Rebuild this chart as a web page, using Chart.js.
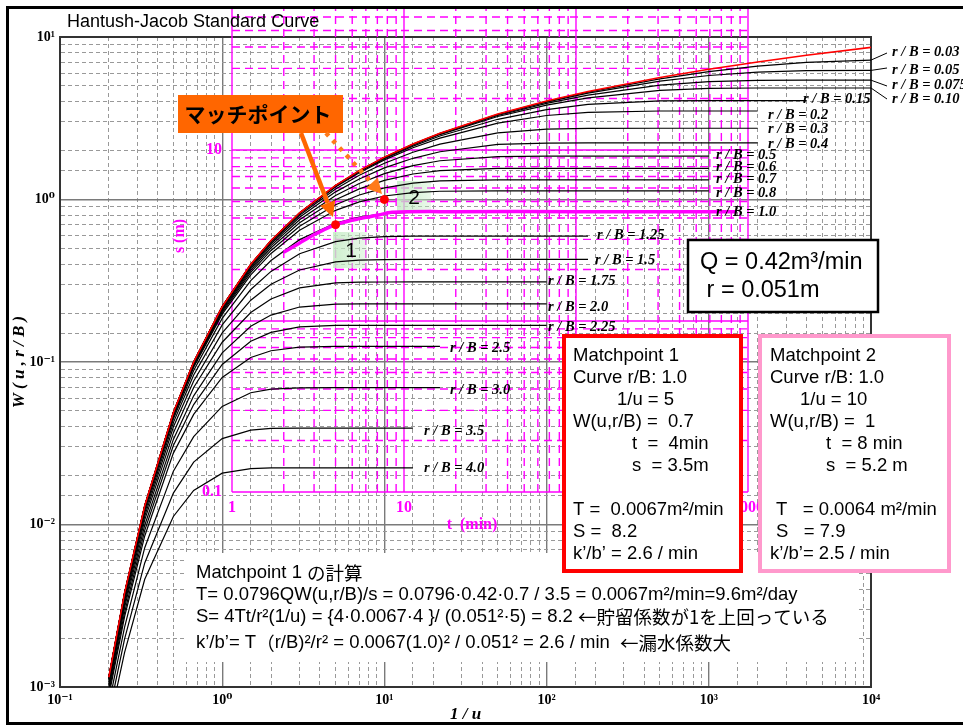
<!DOCTYPE html>
<html>
<head>
<meta charset="utf-8">
<script src="https://cdn.jsdelivr.net/npm/chart.js@4.4.1/dist/chart.umd.min.js"></script>
<style>
  html, body { margin: 0; padding: 0; background: #fff; }
  canvas { display: block; }
</style>
</head>
<body>
<canvas id="chart" width="963" height="725"></canvas>
<script>
// 1/u sample points shared by every type curve
const invU = [0.2, 0.25, 0.333, 0.5, 0.667, 1, 1.5, 2, 3, 5, 7, 10, 15, 22, 50, 100, 180, 500, 1000, 2000, 4000, 10000];

// Theis curve (red)
const theis = [0.001148, 0.003779, 0.01305, 0.0489, 0.1, 0.2194, 0.399, 0.5598, 0.8289, 1.2227, 1.5066, 1.8229, 2.1965, 2.5588, 3.3547, 4.0379, 4.6214, 5.6394, 6.3315, 7.0242, 7.717, 8.6332];

// W(u, r/B) read for each r/B curve
const rb003 = [0.001148, 0.003778, 0.01304, 0.04886, 0.0999, 0.2192, 0.3987, 0.5593, 0.8282, 1.2216, 1.505, 1.8207, 2.1931, 2.5539, 3.3457, 4.0155, 4.5813, 5.53, 6.1185, 6.62, 6.985, 7.21];
const rb005 = [0.001147, 0.003777, 0.01303, 0.04885, 0.0999, 0.2192, 0.3985, 0.559, 0.827, 1.2196, 1.5022, 1.8167, 2.1872, 2.5451, 3.3299, 3.9764, 4.512, 5.3497, 5.796, 6.082, 6.204, 6.228];
const rb0075 = [0.001146, 0.00377, 0.01302, 0.0488, 0.0998, 0.2192, 0.3985, 0.558, 0.8247, 1.2157, 1.4968, 1.811, 2.1775, 2.531, 3.29, 3.907, 4.39, 5.051, 5.307, 5.406, 5.422, 5.423];
const rb010 = [0.001146, 0.00377, 0.01302, 0.0488, 0.0999, 0.219, 0.398, 0.558, 0.823, 1.212, 1.492, 1.802, 2.163, 2.51, 3.24, 3.811, 4.226, 4.7, 4.828, 4.853, 4.854, 4.854];
const rb015 = [0.001146, 0.00377, 0.01302, 0.0488, 0.0997, 0.2186, 0.3969, 0.556, 0.8214, 1.2065, 1.4812, 1.7829, 2.1313, 2.4583, 3.1158, 3.5725, 3.846, 4.0434, 4.0594, 4.06, 4.0601];
const rb02 = [0.001144, 0.00377, 0.01302, 0.04872, 0.0995, 0.218, 0.3952, 0.5531, 0.8157, 1.1943, 1.4619, 1.7527, 2.0829, 2.3847, 2.9522, 3.2875, 3.4409, 3.5041, 3.5054, 3.5054];
const rb03 = [0.001144, 0.003762, 0.01297, 0.04849, 0.09894, 0.2161, 0.3902, 0.5454, 0.7999, 1.1603, 1.4086, 1.6704, 1.9535, 2.1939, 2.5689, 2.7105, 2.7414, 2.745, 2.745, 2.745];
const rb04 = [0.00114, 0.003748, 0.01291, 0.04817, 0.0981, 0.2134, 0.3837, 0.5342, 0.778, 1.1145, 1.3384, 1.5644, 1.7927, 1.9676, 2.1809, 2.2253, 2.229, 2.2291, 2.2291, 2.2291];
const rb05 = [0.001136, 0.00373, 0.01283, 0.04776, 0.09703, 0.2102, 0.3758, 0.5205, 0.7511, 1.0592, 1.2551, 1.4423, 1.6157, 1.7321, 1.8379, 1.8486, 1.8488, 1.8488, 1.8488];
const rb06 = [0.00113, 0.003709, 0.01274, 0.04729, 0.09589, 0.2064, 0.3665, 0.5044, 0.7197, 0.9964, 1.1628, 1.3115, 1.4355, 1.5065, 1.5529, 1.555, 1.555, 1.555, 1.555];
const rb07 = [0.001124, 0.003684, 0.01263, 0.04674, 0.09442, 0.202, 0.3557, 0.486, 0.6847, 0.9284, 1.0657, 1.1791, 1.2627, 1.3024, 1.3206, 1.321, 1.321, 1.321, 1.321];
const rb08 = [0.001117, 0.003656, 0.01251, 0.0461, 0.09282, 0.1969, 0.3436, 0.4657, 0.6469, 0.8575, 0.9675, 1.0505, 1.1037, 1.1241, 1.1306, 1.1306, 1.1306, 1.1306, 1.1306];
const rb10 = [0.0011, 0.00359, 0.01222, 0.04458, 0.0887, 0.1854, 0.3166, 0.421, 0.5662, 0.7149, 0.7797, 0.8191, 0.8373, 0.8415, 0.842, 0.842, 0.842, 0.842, 0.842];
const rb125 = [0.001075, 0.003489, 0.01178, 0.04235, 0.0832, 0.1691, 0.2793, 0.3611, 0.4639, 0.5506, 0.579, 0.5915, 0.595, 0.5955, 0.5955, 0.5955, 0.5955];
const rb15 = [0.001033, 0.003367, 0.01125, 0.03978, 0.0765, 0.1509, 0.24, 0.3007, 0.3683, 0.4135, 0.424, 0.4271, 0.4276, 0.4276, 0.4276, 0.4276, 0.4276];
const rb175 = [0.001008, 0.00323, 0.01067, 0.0366, 0.0697, 0.1323, 0.2017, 0.2444, 0.2857, 0.3069, 0.3102, 0.3107, 0.3108, 0.3108, 0.3108, 0.3108];
const rb20 = [0.00097, 0.00308, 0.0099, 0.0334, 0.0619, 0.1139, 0.1659, 0.1944, 0.2179, 0.2269, 0.2278, 0.2278, 0.2278, 0.2278, 0.2278, 0.2278];
const rb225 = [0.000926, 0.00287, 0.0092, 0.0306, 0.0547, 0.0965, 0.1341, 0.1521, 0.1646, 0.1681, 0.1681, 0.1681, 0.1681, 0.1681, 0.1681, 0.1681];
const rb25 = [0.00088, 0.0027, 0.0085, 0.0275, 0.0476, 0.0803, 0.1065, 0.1173, 0.1235, 0.1247, 0.1247, 0.1247, 0.1247, 0.1247];
const rb30 = [0.00078, 0.00233, 0.0072, 0.0213, 0.0347, 0.0533, 0.0647, 0.0681, 0.0693, 0.0695, 0.0695, 0.0695, 0.0695, 0.0695];
const rb35 = [0.00068, 0.00197, 0.0058, 0.0156, 0.0242, 0.0338, 0.0381, 0.039, 0.0392, 0.0392, 0.0392, 0.0392, 0.0392];
const rb40 = [0.00058, 0.00163, 0.0046, 0.0112, 0.0162, 0.0207, 0.0221, 0.0223, 0.0223, 0.0223, 0.0223, 0.0223, 0.0223];

const rbNames = ['0.03', '0.05', '0.075', '0.10', '0.15', '0.2', '0.3', '0.4', '0.5', '0.6', '0.7', '0.8', '1.0',
  '1.25', '1.5', '1.75', '2.0', '2.25', '2.5', '3.0', '3.5', '4.0'];
const rbSeries = [rb003, rb005, rb0075, rb010, rb015, rb02, rb03, rb04, rb05, rb06, rb07, rb08, rb10,
  rb125, rb15, rb175, rb20, rb225, rb25, rb30, rb35, rb40];

// field data (magenta): time t (min) and drawdown s (m)
const tData = [2.0, 2.5, 3.1, 4.0, 5.5, 7.0, 8.5, 20, 100, 860];
const sData = [2.52, 2.88, 3.25, 3.66, 3.97, 4.15, 4.33, 4.36, 4.36, 4.36];

// match points on the type curve
const matchInvU = [5, 10];
const matchW = [0.7, 1.0];

// where the curve labels sit
const labelPos = [[892, 52], [892, 70], [892, 85], [892, 99], [803, 99], [768, 115], [768, 129], [768, 144],
  [716, 155], [716, 167], [716, 179], [716, 193], [716, 212], [597, 235], [595, 260], [548, 281], [548, 307],
  [548, 327], [450, 348], [450, 390], [424, 431], [424, 468]];
const leaderEnds = [[887, 53], [887, 68], [887, 86], [887, 99]];

const SANS = '"Liberation Sans", "Noto Sans CJK JP", sans-serif';
const CJK = '"Noto Sans CJK JP", sans-serif';
const SERIF = '"Liberation Serif", "DejaVu Serif", serif';
const MAG = '#ff00ff';

const sup = { '-': '\u207b', '0': '\u2070', '1': '\u00b9', '2': '\u00b2', '3': '\u00b3', '4': '\u2074' };
function isMajor(v) {
  const e = Math.log10(v);
  return Math.abs(e - Math.round(e)) < 1e-6;
}
function powLabel(v) {
  if (!isMajor(v)) return '';
  return '10' + String(Math.round(Math.log10(v))).split('').map(c => sup[c]).join('');
}

function toPoints(ws) {
  return ws.map((w, i) => ({ x: invU[i], y: w }));
}

// lower order is drawn on top
const datasets = rbSeries.map((ws, i) => ({
  label: 'r/B = ' + rbNames[i],
  data: toPoints(ws),
  borderColor: '#000',
  borderWidth: 1.2,
  pointRadius: 0,
  order: 3,
  xAxisID: 'x',
  yAxisID: 'y'
}));
datasets.push({
  label: 'Theis',
  data: toPoints(theis),
  borderColor: '#ff0000',
  borderWidth: 1.6,
  pointRadius: 0,
  order: 2,
  xAxisID: 'x',
  yAxisID: 'y'
});
datasets.push({
  label: 'data',
  data: tData.map((t, i) => ({ x: t, y: sData[i] })),
  borderColor: MAG,
  borderWidth: 3.5,
  pointRadius: 0,
  tension: 0.3,
  order: 1,
  xAxisID: 't',
  yAxisID: 's'
});
datasets.push({
  label: 'match',
  data: matchInvU.map((x, i) => ({ x: x, y: matchW[i] })),
  showLine: false,
  pointRadius: 4,
  pointBackgroundColor: '#ff0000',
  pointBorderColor: '#ff0000',
  order: 0,
  xAxisID: 'x',
  yAxisID: 'y'
});

function line(ctx, x1, y1, x2, y2) {
  ctx.beginPath();
  ctx.moveTo(x1, y1);
  ctx.lineTo(x2, y2);
  ctx.stroke();
}

function arrow(ctx, x1, y1, x2, y2, dash) {
  const ang = Math.atan2(y2 - y1, x2 - x1);
  const head = 15, half = 8;
  const bx = x2 - head * Math.cos(ang), by = y2 - head * Math.sin(ang);
  ctx.setLineDash(dash);
  ctx.lineWidth = 4.5;
  line(ctx, x1, y1, bx, by);
  ctx.setLineDash([]);
  ctx.beginPath();
  ctx.moveTo(x2, y2);
  ctx.lineTo(bx + half * Math.sin(ang), by - half * Math.cos(ang));
  ctx.lineTo(bx - half * Math.sin(ang), by + half * Math.cos(ang));
  ctx.closePath();
  ctx.fill();
}

function texts(ctx, list, font) {
  ctx.font = font;
  ctx.textAlign = 'left';
  ctx.textBaseline = 'middle';
  list.forEach(([s, x, y]) => ctx.fillText(s, x, y));
}

// draws text pieces one after another, each piece [string, face]
function mixedLine(ctx, pieces, x, y, size) {
  let cx = x;
  pieces.forEach(([s, face]) => {
    ctx.font = size + 'px ' + face;
    ctx.fillText(s, cx, y);
    cx += ctx.measureText(s).width;
  });
}

const overlayGrid = {
  id: 'overlayGrid',
  beforeDatasetsDraw(chart) {
    const { ctx, chartArea: a } = chart;
    const tS = chart.scales.t, sS = chart.scales.s;
    const tx0 = tS.getPixelForValue(1), tx1 = tS.getPixelForValue(1000);
    const sy0 = sS.getPixelForValue(0.1);

    ctx.save();
    // plot frame
    ctx.strokeStyle = '#333';
    ctx.lineWidth = 2;
    ctx.strokeRect(a.left, a.top, a.right - a.left, a.bottom - a.top);

    // magenta s-t grid
    ctx.beginPath();
    ctx.rect(0, 9, chart.width, chart.height);
    ctx.clip();
    ctx.strokeStyle = MAG;
    ctx.lineWidth = 1.4;
    for (let d = 1; d <= 1000; d *= 10) {
      for (let k = 1; k <= 9; k++) {
        if (d * k > 1000) break;
        const px = tS.getPixelForValue(d * k);
        ctx.setLineDash(k === 1 ? [] : [8, 5]);
        line(ctx, px, sy0, px, 0);
      }
    }
    for (let d = 0.1; d < 200; d *= 10) {
      for (let k = 1; k <= 9; k++) {
        const py = sS.getPixelForValue(d * k);
        if (py < 0) break;
        ctx.setLineDash(k === 1 ? [] : [8, 5]);
        line(ctx, tx0, py, tx1, py);
      }
    }
    ctx.setLineDash([]);

    // magenta axis labels
    ctx.fillStyle = MAG;
    ctx.font = 'bold 16px ' + SERIF;
    ctx.textAlign = 'right';
    ctx.textBaseline = 'middle';
    [['10', 10], ['1', 1], ['0.1', 0.1]].forEach(([s, v]) => ctx.fillText(s, tx0 - 10, sS.getPixelForValue(v)));
    ctx.textAlign = 'center';
    [['1', 1], ['10', 10], ['100', 100], ['1000', 1000]].forEach(([s, v]) => ctx.fillText(s, tS.getPixelForValue(v), sy0 + 16));
    ctx.fillText('t  (min)', 472, 525);
    ctx.save();
    ctx.translate(180, 236);
    ctx.rotate(-Math.PI / 2);
    ctx.fillText('s (m)', 0, 0);
    ctx.restore();

    // green highlight behind the match point numbers
    [[333, 232, 34, 36], [397, 181, 34, 32]].forEach(([x, y, w, h]) => {
      const g = ctx.createLinearGradient(x, 0, x + w, 0);
      g.addColorStop(0, 'rgba(196, 236, 196, 0.85)');
      g.addColorStop(1, 'rgba(196, 236, 196, 0.35)');
      ctx.fillStyle = g;
      ctx.fillRect(x, y, w, h);
    });
    ctx.restore();
  },
  afterDatasetsDraw(chart) {
    const { ctx } = chart;
    const xS = chart.scales.x, yS = chart.scales.y;
    ctx.save();

    // curve labels
    ctx.fillStyle = '#000';
    ctx.font = 'italic bold 14.5px ' + SERIF;
    ctx.textAlign = 'left';
    ctx.textBaseline = 'middle';
    rbNames.forEach((n, i) => ctx.fillText('r / B = ' + n, labelPos[i][0], labelPos[i][1]));
    ctx.strokeStyle = '#000';
    ctx.lineWidth = 1;
    leaderEnds.forEach(([ex, ey], i) => {
      const ws = rbSeries[i];
      line(ctx, xS.getPixelForValue(invU[ws.length - 1]), yS.getPixelForValue(ws[ws.length - 1]), ex, ey);
    });

    // match point numbers
    ctx.font = '21px ' + SANS;
    ctx.textAlign = 'center';
    ctx.fillText('1', 351, 251);
    ctx.fillText('2', 414, 198);

    // orange callout
    ctx.fillStyle = '#ff6600';
    ctx.fillRect(178, 95, 165, 38);
    ctx.fillStyle = '#000';
    ctx.font = 'bold 21px ' + CJK;
    ctx.fillText('マッチポイント', 258, 114);
    ctx.fillStyle = '#ff6600';
    ctx.strokeStyle = '#ff6600';
    ctx.lineCap = 'butt';
    arrow(ctx, 301, 133, 333, 217, []);
    ctx.strokeStyle = '#ff7a1a';
    ctx.fillStyle = '#ff7a1a';
    arrow(ctx, 326, 133, 382, 194, [4, 6]);

    // white panel behind the calculation text
    ctx.fillStyle = '#fff';
    ctx.fillRect(186, 553, 671, 109);
    ctx.fillStyle = '#000';
    ctx.textAlign = 'left';
    ctx.textBaseline = 'middle';
    mixedLine(ctx, [['Matchpoint 1 ', SANS], ['の計算', CJK]], 196, 573, 18.5);
    mixedLine(ctx, [['T= 0.0796QW(u,r/B)/s = 0.0796·0.42·0.7 / 3.5 = 0.0067m²/min=9.6m²/day', SANS]], 196, 595, 18.5);
    mixedLine(ctx, [['S= 4Tt/r²(1/u) = {4·0.0067·4 }/ (0.051²·5) = 8.2 ', SANS], ['←貯留係数が1を上回っている', CJK]], 196, 617, 18.5);
    mixedLine(ctx, [['k’/b’= T', SANS], ['（', CJK], ['r/B)²/r² = 0.0067(1.0)² / 0.051² = 2.6 / min  ', SANS], ['←漏水係数大', CJK]], 196, 643, 18.5);

    // Q / r box
    ctx.fillStyle = '#fff';
    ctx.fillRect(688, 240, 190, 72);
    ctx.strokeStyle = '#000';
    ctx.lineWidth = 2.5;
    ctx.strokeRect(688, 240, 190, 72);
    ctx.fillStyle = '#000';
    texts(ctx, [['Q = 0.42m³/min', 700, 263], [' r = 0.051m', 700, 291]], '23.5px ' + SANS);

    // match point 1 box
    ctx.fillStyle = '#fff';
    ctx.fillRect(564, 336, 177, 235);
    ctx.strokeStyle = '#ff0000';
    ctx.lineWidth = 4;
    ctx.strokeRect(564, 336, 177, 235);
    ctx.fillStyle = '#000';
    texts(ctx, [
      ['Matchpoint 1', 573, 356], ['Curve r/B: 1.0', 573, 378], ['1/u = 5', 617, 400],
      ['W(u,r/B) =  0.7', 573, 422], ['t  =  4min', 632, 444], ['s  = 3.5m', 632, 466],
      ['T =  0.0067m²/min', 573, 510], ['S =  8.2', 573, 532], ['k’/b’ = 2.6 / min', 573, 554]
    ], '18.5px ' + SANS);

    // match point 2 box
    ctx.fillStyle = '#fff';
    ctx.fillRect(760, 336, 189, 235);
    ctx.strokeStyle = '#ff99cc';
    ctx.strokeRect(760, 336, 189, 235);
    ctx.fillStyle = '#000';
    texts(ctx, [
      ['Matchpoint 2', 770, 356], ['Curve r/B: 1.0', 770, 378], ['1/u = 10', 800, 400],
      ['W(u,r/B) =  1', 770, 422], ['t  = 8 min', 826, 444], ['s  = 5.2 m', 826, 466],
      ['T   = 0.0064 m²/min', 776, 510], ['S   = 7.9', 776, 532], ['k’/b’= 2.5 / min', 770, 554]
    ], '18.5px ' + SANS);

    // title and outer frame
    texts(ctx, [['Hantush-Jacob Standard Curve', 67, 22]], '18px ' + SANS);
    ctx.strokeStyle = '#000';
    ctx.lineWidth = 3;
    ctx.strokeRect(7.5, 7.5, 970, 716);
    ctx.restore();
  }
};

const axisFont = { family: SERIF, size: 14, weight: 'bold' };
const titleFont = { family: SERIF, size: 17, weight: 'bold', style: 'italic' };

new Chart(document.getElementById('chart'), {
  type: 'line',
  data: { datasets: datasets },
  options: {
    responsive: false,
    animation: false,
    devicePixelRatio: 1,
    parsing: false,
    layout: { padding: { top: 37, right: 92, left: 0, bottom: 0 } },
    plugins: { legend: { display: false }, tooltip: { enabled: false } },
    scales: {
      x: {
        type: 'logarithmic',
        position: 'bottom',
        min: 0.1,
        max: 10000,
        afterFit: s => { s.height = 38; },
        ticks: { autoSkip: false, maxRotation: 0, padding: 5, color: '#000', font: axisFont, callback: v => powLabel(v) },
        grid: {
          drawTicks: false,
          color: c => (c.tick && isMajor(c.tick.value)) ? '#7a7a7a' : '#999',
          lineWidth: c => (c.tick && isMajor(c.tick.value)) ? 1.4 : 1
        },
        border: { display: true, color: '#222', width: 2, dash: c => (c.tick && !isMajor(c.tick.value)) ? [4, 3] : [] },
        title: { display: true, text: '1 / u', color: '#000', padding: { top: 0, bottom: 0 }, font: titleFont }
      },
      y: {
        type: 'logarithmic',
        position: 'left',
        min: 0.001,
        max: 10,
        afterFit: s => { s.width = 60; },
        ticks: { autoSkip: false, padding: 5, color: '#000', font: axisFont, callback: v => powLabel(v) },
        grid: {
          drawTicks: false,
          color: c => (c.tick && isMajor(c.tick.value)) ? '#7a7a7a' : '#999',
          lineWidth: c => (c.tick && isMajor(c.tick.value)) ? 1.4 : 1
        },
        border: { display: true, color: '#222', width: 2, dash: c => (c.tick && !isMajor(c.tick.value)) ? [4, 3] : [] },
        title: { display: true, text: 'W ( u , r / B )', color: '#000', padding: { top: 9, bottom: 0 }, font: titleFont }
      },
      t: { type: 'logarithmic', display: false, position: 'bottom', min: 0.1, max: 5190 },
      s: { type: 'logarithmic', display: false, position: 'left', min: 0.00724, max: 45.8 }
    }
  },
  plugins: [overlayGrid]
});
</script>
</body>
</html>
